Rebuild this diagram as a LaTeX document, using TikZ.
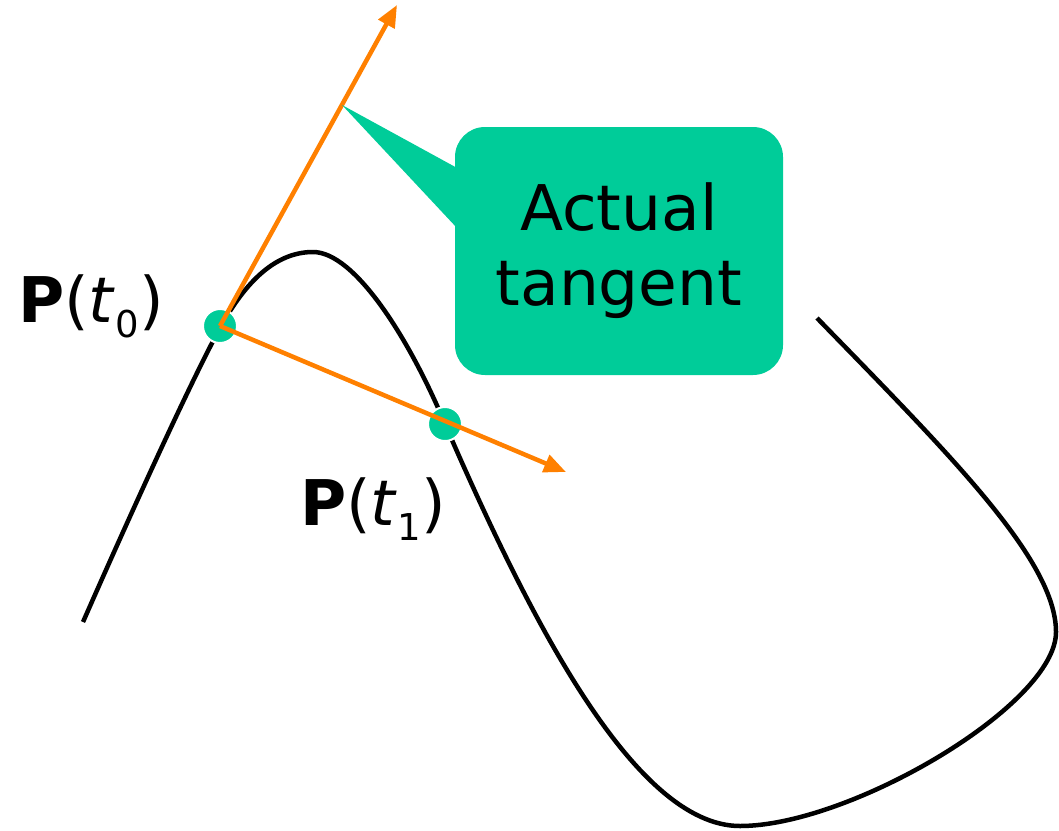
\documentclass[tikz,border=0pt]{standalone}
\usepackage{fontspec}
\setmainfont{DejaVu Sans}
\usepackage{tikz}
\usetikzlibrary{arrows.meta,positioning,calc}
\definecolor{tangorange}{RGB}{255,128,0}
\definecolor{tanggreen}{RGB}{0,204,153}
\newcommand{\Pof}[1]{\textbf{P}(\textit{t}\raisebox{-0.25em}{\fontsize{37}{37}\selectfont #1})}
\tikzset{
  curve/.style={draw=black, line width=4.5pt, line join=round},
  dot/.style={circle, fill=tanggreen, draw=white, line width=2pt, minimum size=34pt, inner sep=0pt},
  vec/.style={draw=tangorange, line width=4.5pt, -{Triangle[length=22pt,width=18pt]}},
  plbl/.style={font=\fontsize{63}{75}\selectfont, inner sep=0pt, anchor=base west},
  callout/.style={fill=tanggreen, rounded corners=30pt, align=center,
    minimum width=328pt, minimum height=248pt, font=\fontsize{63}{75}\selectfont}
}
\begin{document}
\begin{tikzpicture}[x=1pt, y=-1pt]
  \useasboundingbox (0,0) rectangle (1059,830);
  % the curve
  \draw[curve] (83,622) .. controls (130,515) and (191,381) .. (220,328)
    .. controls (249,275) and (280,252) .. (313,252)
    .. controls (355,252) and (410,340) .. (445,424)
    .. controls (530,620) and (635,826) .. (740,826)
    .. controls (850,826) and (1056,705) .. (1056,632)
    .. controls (1056,560) and (950,455) .. (817,318);
  % points on the curve
  \node[dot] (t0dot) at (220,326) {};
  \node[dot] (t1dot) at (445,424) {};
  \node[plbl] (lblt0) at (18,322) {\Pof{0}};
  \node[plbl] (lblt1) at (300,525) {\Pof{1}};
  % tangent and chord
  \coordinate (tanend) at (397,5);
  \coordinate (chordend) at (566,472);
  \draw[vec] (t0dot.center) -- (tanend);
  \draw[vec] (t0dot.center) -- (chordend);
  % callout
  \node[callout] (note) at (619,251) {Actual\\tangent};
  \coordinate (tipc) at (342,105);
  \fill[tanggreen] (tipc) -- ([xshift=2pt,yshift=-41pt]note.north west)
    -- ([xshift=2pt,yshift=-101pt]note.north west) -- cycle;
\end{tikzpicture}
\end{document}
